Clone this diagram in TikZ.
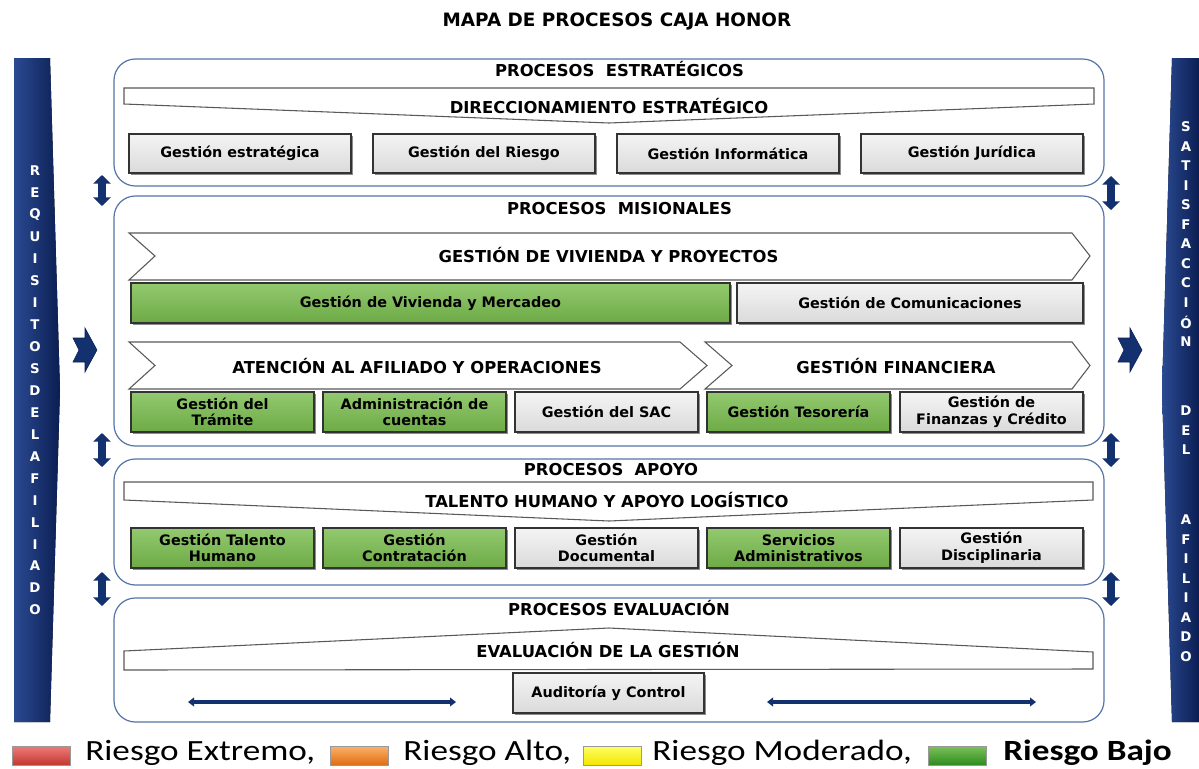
\documentclass[tikz,border=0pt]{standalone}
\usepackage{fontspec}
\setmainfont{DejaVu Sans}
\newfontfamily\legfont{Carlito}
\usetikzlibrary{shadows,arrows.meta}
\definecolor{navy}{HTML}{13306F}
\definecolor{navyL}{HTML}{2A4A92}
\definecolor{navyD}{HTML}{0B1E52}
\definecolor{panelb}{HTML}{5574A8}
\definecolor{grnT}{HTML}{93C96F}
\definecolor{grnB}{HTML}{6DAA46}
\definecolor{gryT}{HTML}{F4F4F4}
\definecolor{gryB}{HTML}{DADADA}
\definecolor{redT}{HTML}{F07B78}
\definecolor{redB}{HTML}{C0392F}
\definecolor{orT}{HTML}{FBB26A}
\definecolor{orB}{HTML}{E06C12}
\definecolor{yeT}{HTML}{FFFF66}
\definecolor{yeB}{HTML}{F2E600}
\definecolor{lgT}{HTML}{7CC35A}
\definecolor{lgB}{HTML}{2E8B1E}
\newcommand\boxfnt{\bfseries\fontsize{10.8}{12.5}\selectfont}
\newcommand\headfnt{\bfseries\fontsize{12.3}{14}\selectfont}
\tikzset{
  panel/.style={draw=panelb, line width=0.9pt, rounded corners=16pt, fill=white},
  banner/.style={draw=black!65, line width=0.8pt, fill=white},
  basebox/.style={draw=black!80, line width=0.9pt, align=center, font=\boxfnt, inner sep=1pt,
    drop shadow={shadow xshift=1.6pt, shadow yshift=-1.6pt, fill=black, opacity=0.45}},
  graybox/.style={basebox, top color=gryT, bottom color=gryB},
  greenbox/.style={basebox, top color=grnT, bottom color=grnB},
  headtxt/.style={font=\headfnt, inner sep=0pt},
  bar/.style={left color=navyL, right color=navyD, draw=none},
  barletter/.style={text=white, font=\bfseries\fontsize{10}{10}\selectfont, inner sep=0pt},
  vdarrow/.style={draw=navy, line width=6pt, {Triangle[width=13pt,length=6.5pt]}-{Triangle[width=13pt,length=6.5pt]}},
  hdarrow/.style={draw=navy, line width=2.3pt, {Triangle[width=6.5pt,length=4.5pt]}-{Triangle[width=6.5pt,length=4.5pt]}},
  chev/.style={fill=navy, draw=navyD, line width=0.4pt},
  swatch/.style={draw=black!40, line width=0.3pt},
  legtxt/.style={anchor=base west, inner sep=0pt, xscale=1.2, transform shape, font=\legfont\fontsize{22}{23}\selectfont}
}
\begin{document}
\begin{tikzpicture}[x=0.75pt,y=-0.75pt]
\useasboundingbox (0,0) rectangle (1199,768);
\fill[white] (0,0) rectangle (1199,768);

% title
\node[font=\bfseries\fontsize{13.8}{15}\selectfont, inner sep=0pt] (title) at (617,22) {MAPA DE PROCESOS CAJA HONOR};

% side bars
\fill[bar] (14,58) -- (50,58) -- (60,390) -- (50,722) -- (14,722) -- cycle;
\fill[bar] (1172,58) -- (1199,58) -- (1199,722) -- (1172,722) -- (1162,390) -- cycle;
\foreach \l [count=\i from 0] in {R,E,Q,U,I,S,I,T,O,S,D,E,L,A,F,I,L,I,A,D,O}
  \node[barletter] (ll\i) at (35,171+21.95*\i) {\l};
\foreach \l [count=\i from 0] in {S,A,T,I,S,F,A,C,C,I,Ó,N}
  \node[barletter] (ra\i) at (1186,127+19.5*\i) {\l};
\foreach \l [count=\i from 0] in {D,E,L}
  \node[barletter] (rb\i) at (1186,411+19.5*\i) {\l};
\foreach \l [count=\i from 0] in {A,F,I,L,I,A,D,O}
  \node[barletter] (rc\i) at (1186,520+19.5*\i) {\l};

% chevron arrows
\fill[chev] (73,338) -- (85,338) -- (85,328) -- (97,350) -- (85,372) -- (85,362) -- (73,362) -- (79,350) -- cycle;
\fill[chev] (1118,338) -- (1130,338) -- (1130,328) -- (1142,350) -- (1130,372) -- (1130,362) -- (1118,362) -- (1124,350) -- cycle;

% vertical double arrows
\coordinate (la1) at (102,175); \coordinate (lb1) at (102,206);
\coordinate (la2) at (102,433); \coordinate (lb2) at (102,467);
\coordinate (la3) at (102,572); \coordinate (lb3) at (102,606);
\coordinate (ra1) at (1111,176); \coordinate (rb1) at (1111,210);
\coordinate (ra2) at (1111,433); \coordinate (rb2) at (1111,467);
\coordinate (ra3) at (1111,572); \coordinate (rb3) at (1111,606);
\foreach \k in {1,2,3} {
  \draw[vdarrow] (la\k) -- (lb\k);
  \draw[vdarrow] (ra\k) -- (rb\k);
}

% ---------- panels ----------
\draw[panel] (114,59) rectangle (1104,186);
\draw[panel] (114,196) rectangle (1104,446);
\draw[panel] (114,459) rectangle (1104,585);
\draw[panel] (114,598) rectangle (1104,722);

% ---------- estrategicos ----------
\node[headtxt] (pest) at (619.5,69) {PROCESOS\ \ ESTRATÉGICOS};
\draw[banner] (124,88) -- (1094,88) -- (1094,104) -- (609,123) -- (124,104) -- cycle;
\node[headtxt] (dir) at (609,106) {DIRECCIONAMIENTO ESTRATÉGICO};
\node[graybox, minimum width=166.5pt, minimum height=29.25pt] (ge) at (240,153.5) {Gestión estratégica};
\node[graybox, minimum width=166.5pt, minimum height=29.25pt] (gr) at (484,153.5) {Gestión del Riesgo};
\node[graybox, minimum width=166.5pt, minimum height=29.25pt] (gi) at (728,153.5) {Gestión Informática};
\node[graybox, minimum width=166.5pt, minimum height=29.25pt] (gj) at (972,153.5) {Gestión Jurídica};

% ---------- misionales ----------
\node[headtxt] (pmis) at (619.5,209) {PROCESOS\ \ MISIONALES};
\draw[banner] (129,233) -- (1072,233) -- (1090,256) -- (1072,280) -- (129,280) -- (155,256) -- cycle;
\node[headtxt] (gvp) at (608.5,255) {GESTIÓN DE VIVIENDA Y PROYECTOS};
\node[greenbox, minimum width=449.25pt, minimum height=30pt] (gvm) at (430.5,303) {Gestión de Vivienda y Mercadeo};
\node[graybox, minimum width=259.5pt, minimum height=30pt] (gc) at (910,303) {Gestión de Comunicaciones};
\draw[banner] (129,342) -- (680,342) -- (707,365.5) -- (680,389) -- (129,389) -- (155,365.5) -- cycle;
\node[headtxt] (aao) at (417,366) {ATENCIÓN AL AFILIADO Y OPERACIONES};
\draw[banner] (705,342) -- (1072,342) -- (1090,365.5) -- (1072,389) -- (705,389) -- (732,365.5) -- cycle;
\node[headtxt] (gf) at (896,366) {GESTIÓN FINANCIERA};
\node[greenbox, minimum width=137.25pt, minimum height=30pt] (gt) at (222.5,412) {Gestión del\\Trámite};
\node[greenbox, minimum width=137.25pt, minimum height=30pt] (ac) at (414.5,412) {Administración de\\cuentas};
\node[graybox, minimum width=137.25pt, minimum height=30pt] (sac) at (606.5,412) {Gestión del SAC};
\node[greenbox, minimum width=137.25pt, minimum height=30pt] (tes) at (798.5,412) {Gestión Tesorería};
\node[graybox, minimum width=137.25pt, minimum height=30pt] (fin) at (991.5,412) {Gestión de\\Finanzas y Crédito};

% ---------- apoyo ----------
\node[headtxt] (papo) at (611,470) {PROCESOS\ \ APOYO};
\draw[banner] (124,482) -- (1093,482) -- (1093,500) -- (609,521) -- (124,500) -- cycle;
\node[headtxt] (thl) at (607,500) {TALENTO HUMANO Y APOYO LOGÍSTICO};
\node[greenbox, minimum width=137.25pt, minimum height=30pt] (gth) at (222.5,548) {Gestión Talento\\Humano};
\node[greenbox, minimum width=137.25pt, minimum height=30pt] (gco) at (414.5,548) {Gestión\\Contratación};
\node[graybox, minimum width=137.25pt, minimum height=30pt] (gdo) at (606.5,548) {Gestión\\Documental};
\node[greenbox, minimum width=137.25pt, minimum height=30pt] (sad) at (798.5,548) {Servicios\\Administrativos};
\node[graybox, minimum width=137.25pt, minimum height=30pt] (gdi) at (991.5,548) {Gestión\\Disciplinaria};

% ---------- evaluacion ----------
\node[headtxt] (peva) at (619,608) {PROCESOS EVALUACIÓN};
\draw[banner] (124,670) -- (124,651) -- (609,628) -- (1093,652) -- (1093,669) -- cycle;
\node[headtxt] (edg) at (608,650) {EVALUACIÓN DE LA GESTIÓN};
\node[graybox, minimum width=143.25pt, minimum height=30pt] (aud) at (608.5,693) {Auditoría y Control};
\coordinate (h1a) at (188,702); \coordinate (h1b) at (456,702);
\coordinate (h2a) at (767,702); \coordinate (h2b) at (1036,702);
\draw[hdarrow] (h1a) -- (h1b);
\draw[hdarrow] (h2a) -- (h2b);

% ---------- legend ----------
\shade[swatch, top color=redT, bottom color=redB] (12,746) rectangle (70,765);
\node[legtxt] (lr) at (85,760) {Riesgo Extremo,};
\shade[swatch, top color=orT, bottom color=orB] (330,746) rectangle (388,765);
\node[legtxt] (lo) at (403,760) {Riesgo Alto,};
\shade[swatch, top color=yeT, bottom color=yeB] (583,746) rectangle (641,765);
\node[legtxt] (ly) at (652,760) {Riesgo Moderado,};
\shade[swatch, top color=lgT, bottom color=lgB] (928,746) rectangle (986,765);
\node[legtxt, font=\legfont\bfseries\fontsize{22}{23}\selectfont] (lg) at (1003,760) {Riesgo Bajo};
\end{tikzpicture}
\end{document}
